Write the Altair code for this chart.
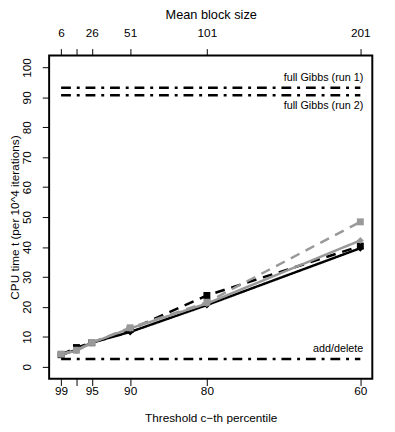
import altair as alt
import pandas as pd

# ---- data ----
percentile = [99, 97, 95, 90, 80, 60]
block_size = [6, 16, 26, 51, 101, 201]
black_solid = [4.0, 5.6, 8.0, 11.6, 20.6, 39.6]
black_dashed = [4.0, 6.4, 8.0, 12.4, 23.8, 40.3]
grey_solid = [4.2, 5.3, 8.0, 12.8, 21.1, 42.2]
grey_dashed = [4.2, 5.5, 8.1, 13.0, 21.5, 48.4]

series_names = ["black solid", "black dashed", "grey solid", "grey dashed"]
series_vals = [black_solid, black_dashed, grey_solid, grey_dashed]
series_color = ["#000000", "#000000", "#999999", "#999999"]
series_dash = [[1, 0], [10, 7], [1, 0], [10, 7]]
series_shape = ["diamond", "square", "diamond", "square"]

ref_labels = ["full Gibbs (run 1)", "full Gibbs (run 2)", "add/delete"]
ref_values = [93.2, 90.7, 2.6]
ref_above = [True, False, True]

top_labels = ["6", "", "26", "51", "101", "201"]
bottom_labels = ["99", "", "95", "90", "80", "60"]
y_ticks = list(range(0, 101, 10))

FONT = "Liberation Sans"


def label_expr(values, labels):
    expr = "''"
    for v, l in reversed(list(zip(values, labels))):
        expr = f"datum.value == {v} ? '{l}' : ({expr})"
    return expr


xs = alt.Scale(domain=[-1.8, 208.8], nice=False, zero=False)
ys = alt.Scale(domain=[-4, 104], nice=False, zero=False)

bottom_axis = alt.Axis(
    orient="bottom", values=block_size, labelExpr=label_expr(block_size, bottom_labels),
    title="Threshold c\u2212th percentile", tickSize=7, labelPadding=0,
    titleX=165, titleY=40, titleAlign="center", titleBaseline="middle",
)
top_axis = alt.Axis(
    orient="top", values=block_size, labelExpr=label_expr(block_size, top_labels),
    title="Mean block size", tickSize=7, labelPadding=9, titleFontSize=13,
    titleX=165, titleY=-42, titleAlign="center", titleBaseline="middle",
)
left_axis = alt.Axis(
    values=y_ticks, title="CPU time t (per 10^4 iterations)", tickSize=7,
    labelAngle=270, labelAlign="center", labelBaseline="bottom", labelPadding=9,
    titleAngle=270, titleX=-35, titleY=165, titleAlign="center", titleBaseline="middle",
)

ref_df = pd.DataFrame({
    "label": ref_labels,
    "t": ref_values,
    "above": ref_above,
    "x0": block_size[0],
    "x1": block_size[-1],
})

rules = alt.Chart(ref_df).mark_rule(
    color="black", strokeWidth=2.5, strokeDash=[10, 6, 3, 6]
).encode(
    x=alt.X("x0:Q", scale=xs, axis=bottom_axis),
    x2="x1:Q",
    y=alt.Y("t:Q", scale=ys, axis=left_axis),
)

text_above = alt.Chart(ref_df).transform_filter("datum.above").mark_text(
    align="right", baseline="middle", dx=3, dy=-10, fontSize=11, font=FONT, color="black"
).encode(
    x=alt.X("x1:Q", scale=xs, axis=top_axis),
    y=alt.Y("t:Q", scale=ys, axis=None),
    text="label:N",
)
text_below = alt.Chart(ref_df).transform_filter("!datum.above").mark_text(
    align="right", baseline="middle", dx=3, dy=11, fontSize=11, font=FONT, color="black"
).encode(
    x=alt.X("x1:Q", scale=xs, axis=None),
    y=alt.Y("t:Q", scale=ys, axis=None),
    text="label:N",
)

layers = [rules, text_above, text_below]
for name, vals, col, dash, shp in zip(series_names, series_vals, series_color, series_dash, series_shape):
    d = pd.DataFrame({"bs": block_size, "pct": percentile, "t": vals, "series": name})
    enc = dict(
        x=alt.X("bs:Q", scale=xs, axis=None),
        y=alt.Y("t:Q", scale=ys, axis=None),
    )
    line = alt.Chart(d).mark_line(color=col, strokeWidth=2.5, strokeDash=dash).encode(**enc)
    pts = alt.Chart(d).mark_point(shape=shp, filled=True, size=50, color=col, opacity=1).encode(**enc)
    layers += [line, pts]

chart = alt.layer(*layers).resolve_axis(x="independent", y="independent").properties(
    width=330, height=330,
    background="white",
    autosize=alt.AutoSizeParams(type="none"),
    padding={"left": 42, "top": 44, "right": 15, "bottom": 50},
).configure_view(
    stroke="black", strokeWidth=2
).configure_axis(
    domain=False, grid=False, tickColor="black", tickWidth=1,
    labelColor="black", labelFont=FONT, labelFontSize=12,
    titleColor="black", titleFont=FONT, titleFontSize=12, titleFontWeight="normal",
)

chart.save("out.html", embed_options={"renderer": "svg", "actions": False})
